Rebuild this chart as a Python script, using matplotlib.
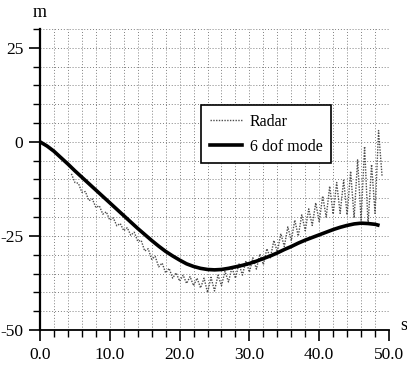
import numpy as np
import matplotlib
matplotlib.use("Agg")
import matplotlib.pyplot as plt
from matplotlib.ticker import MultipleLocator, FormatStrFormatter

plt.rcParams['font.family'] = ['Liberation Serif', 'DejaVu Serif']
plt.rcParams['axes.unicode_minus'] = False

# 6 dof model (smooth curve)
model_t = [0, 1, 2, 3, 4, 5, 6, 7, 8, 9, 10, 11, 12, 13, 14, 15, 16, 17, 18,
           19, 20, 21, 22, 23, 24, 25, 26, 27, 28, 29, 30, 31, 32, 33, 34, 35,
           36, 37, 38, 39, 40, 41, 42, 43, 44, 45, 46, 47, 48, 48.4]
model_y = [0.0, -1.1, -2.5, -4.2, -5.9, -7.7, -9.4, -11.1, -12.8, -14.5,
           -16.2, -17.9, -19.6, -21.3, -23.0, -24.6, -26.2, -27.7, -29.1,
           -30.3, -31.4, -32.4, -33.1, -33.6, -33.9, -34.0, -33.9, -33.6,
           -33.2, -32.8, -32.3, -31.7, -31.0, -30.3, -29.5, -28.6, -27.8,
           -26.9, -26.1, -25.4, -24.7, -24.0, -23.3, -22.7, -22.2, -21.8,
           -21.6, -21.7, -21.9, -22.1]

# radar track, sampled every 0.5 s from 4.5 s
radar_t = np.arange(4.5, 49.01, 0.5)
radar_y = [-8.5, -10.8, -11.0, -13.4, -13.2, -15.6, -15.2, -17.4, -17.0, -19.2,
           -18.6, -20.8, -20.2, -22.3, -21.7, -23.6, -22.8, -24.8, -24.0, -26.4,
           -26.2, -29.0, -28.4, -31.2, -30.4, -33.2, -32.2, -34.8, -33.6, -36.2,
           -34.8, -37.0, -35.4, -37.6, -35.8, -38.2, -36.2, -38.8, -36.2, -40.0,
           -36.0, -39.6, -35.4, -38.2, -34.4, -37.2, -33.4, -36.2, -32.4, -35.4,
           -31.6, -34.6, -30.8, -33.8, -29.8, -32.6, -28.4, -30.8, -26.2, -29.2,
           -24.4, -27.8, -22.6, -26.2, -20.8, -25.0, -19.4, -23.6, -17.8, -22.2,
           -16.2, -21.2, -14.4, -20.0, -11.8, -19.2, -10.8, -19.0, -10.2, -19.4,
           -7.8, -20.2, -4.8, -20.8, -1.2, -22.0, -6.0, -19.0, 3.0, -9.0]

fig = plt.figure(figsize=(4.07, 3.68), dpi=100)
ax = fig.add_axes([0.0983, 0.103, 0.8575, 0.8185])

ax.plot(radar_t, radar_y, color='0.3', lw=1.0, ls=(0, (1, 1)), label='Radar')
ax.plot(model_t, model_y, color='black', lw=2.6, label='6 dof mode')

ax.set_xlim(0, 50)
ax.set_ylim(-50, 30)

ax.xaxis.set_major_locator(MultipleLocator(10))
ax.xaxis.set_minor_locator(MultipleLocator(2))
ax.yaxis.set_major_locator(MultipleLocator(25))
ax.yaxis.set_minor_locator(MultipleLocator(5))
ax.xaxis.set_major_formatter(FormatStrFormatter('%.1f'))
ax.yaxis.set_major_formatter(FormatStrFormatter('%d'))

ax.grid(which='both', color='0.5', lw=0.7, ls=(0, (1, 2)))
ax.set_axisbelow(True)

for side in ['top', 'right']:
    ax.spines[side].set_visible(False)
ax.spines['left'].set_linewidth(1.6)
ax.spines['bottom'].set_linewidth(1.3)

ax.tick_params(which='major', length=8, width=1.2, labelsize=12.5, pad=4)
ax.tick_params(which='minor', length=5, width=1.0)

ax.annotate('m', xy=(0, 1), xycoords='axes fraction', xytext=(0, 12),
            textcoords='offset points', fontsize=13, ha='center', va='center')
ax.annotate('s', xy=(1, 0), xycoords='axes fraction', xytext=(8, 3),
            textcoords='offset points', fontsize=13, ha='left', va='center')

leg = ax.legend(loc='upper left', bbox_to_anchor=(0.461, 0.7475), borderaxespad=0,
                fontsize=11.5, handlelength=2.0, handletextpad=0.5,
                fancybox=False, framealpha=1, edgecolor='black',
                borderpad=0.55, labelspacing=0.55)
leg.get_frame().set_linewidth(1.2)

fig.savefig('out.png', dpi=100)
